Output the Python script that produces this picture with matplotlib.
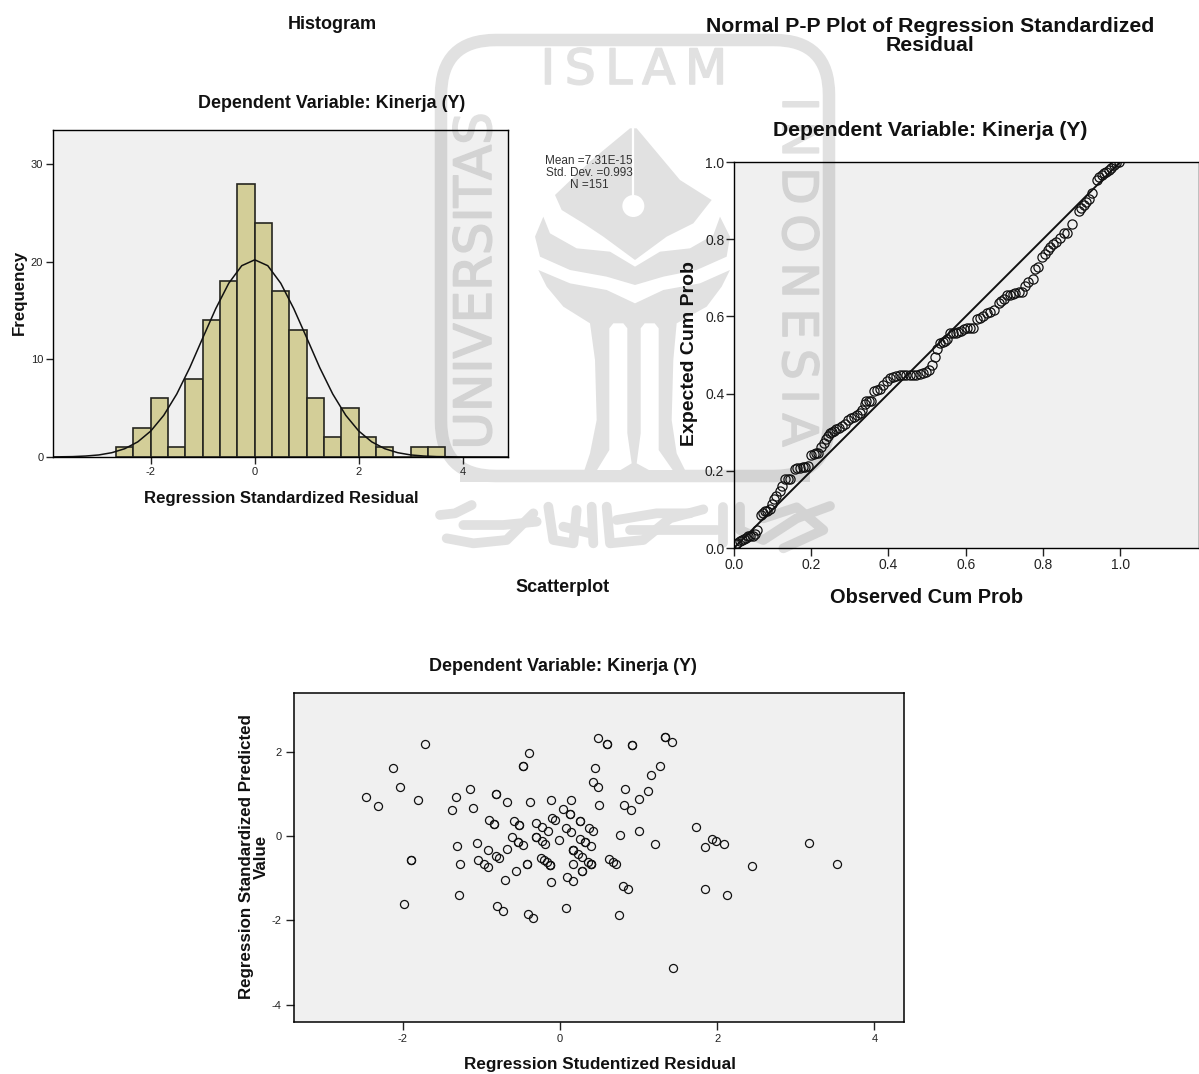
import matplotlib
matplotlib.use("Agg")
import matplotlib.pyplot as plt
import matplotlib.patheffects as pe
from matplotlib.patches import Circle, FancyBboxPatch, Polygon

plt.rcParams['font.family'] = ['Liberation Sans', 'DejaVu Sans']
plt.rcParams['axes.unicode_minus'] = False

W, H = 1199, 1074

# histogram
hist_edges = [-8/3, -7/3, -2, -5/3, -4/3, -1, -2/3, -1/3, 0, 1/3, 2/3, 1, 4/3, 5/3, 2, 7/3, 8/3, 3, 10/3, 11/3]
hist_counts = [1, 3, 6, 1, 8, 14, 18, 28, 24, 17, 13, 6, 2, 5, 2, 1, 0, 1, 1]
curve_x = [-3.88, -3.5, -3.25, -3.0, -2.75, -2.5, -2.25, -2.0, -1.75, -1.5, -1.25, -1.0, -0.75, -0.5, -0.25, 0.0,
           0.25, 0.5, 0.75, 1.0, 1.25, 1.5, 1.75, 2.0, 2.25, 2.5, 2.75, 3.0, 3.25, 3.5, 4.0, 4.87]
curve_y = [0.01, 0.04, 0.10, 0.21, 0.44, 0.85, 1.55, 2.66, 4.27, 6.45, 9.15, 12.2, 15.2, 17.8, 19.6, 20.2,
           19.6, 17.8, 15.2, 12.2, 9.15, 6.45, 4.27, 2.66, 1.55, 0.85, 0.44, 0.21, 0.10, 0.04, 0.01, 0.0]

# normal p-p plot
pp_x = [.004, .009, .015, .020, .025, .031, .036, .042, .048, .054,
        .060, .070, .075, .080, .086, .092, .098, .104, .110, .118,
        .125, .131, .139, .146, .157, .164, .170, .178, .185, .192,
        .200, .207, .213, .218, .226, .232, .238, .243, .248, .254,
        .260, .265, .272, .280, .287, .295, .304, .312, .319, .326,
        .332, .338, .343, .349, .355, .362, .370, .378, .386, .395,
        .404, .412, .420, .430, .438, .446, .455, .463, .472, .481,
        .490, .498, .506, .512, .520, .526, .533, .540, .546, .551,
        .559, .566, .574, .581, .589, .596, .602, .610, .618, .630,
        .637, .645, .654, .663, .672, .685, .692, .699, .706, .715,
        .722, .728, .737, .745, .753, .762, .773, .780, .788, .797,
        .805, .812, .818, .826, .835, .844, .854, .863, .875, .892,
        .899, .905, .912, .920, .927, .940, .946, .952, .957, .964,
        .970, .976, .983, .990, .996]
pp_y = [.010, .013, .017, .020, .023, .027, .030, .031, .030, .036,
        .046, .085, .091, .095, .097, .100, .113, .126, .135, .147,
        .160, .178, .178, .180, .204, .206, .208, .209, .210, .212,
        .240, .243, .245, .247, .262, .273, .283, .291, .297, .300,
        .304, .308, .310, .316, .321, .332, .336, .340, .345, .351,
        .358, .372, .380, .381, .382, .408, .410, .412, .422, .432,
        .441, .443, .445, .447, .448, .448, .449, .449, .449, .451,
        .453, .456, .460, .475, .494, .516, .532, .533, .536, .542,
        .557, .558, .558, .559, .563, .568, .570, .570, .570, .594,
        .596, .600, .609, .611, .616, .635, .640, .646, .655, .656,
        .659, .661, .662, .663, .678, .689, .698, .724, .728, .755,
        .762, .773, .781, .788, .794, .802, .815, .817, .840, .872,
        .880, .889, .897, .903, .919, .954, .960, .966, .971, .975,
        .980, .984, .993, .997, 1.0]

# scatterplot, repeated pairs are points printed on top of each other
scat_x = [-1.72, -2.13, -2.04, -2.47, -2.32, -1.81, -1.89, -1.89, -1.99, -.40, -.47, -.47, -1.15, -1.32, -1.37, -1.11,
          -.81, -.81, -.67, -.38, -.12, .14, .04, .13, .13, .25, .25, -.90, -.84, -.84, -.59, -.52, -.52, -.31, -.23,
          -.15, -.10, -.06, .08, .14, .37, .42, -.61, -.53, -.53, -.47, -.31, -.31, -.23, -.19, -.01, .26, .32, .32,
          .40, .17, .17, .17, .23, .28, -1.31, -1.06, -.92, -.68, -.82, -.78, -1.04, -.97, -.92, -1.27, -.42, -.42,
          -.24, -.20, -.16, -.13, -.13, -.13, .16, .36, .40, .40, .40, -.56, -.70, .28, .28, -.11, .09, .17, -1.28,
          -.80, -.72, -.41, -.34, .08, .48, .45, .42, .48, .50, .60, .60, .91, .91, 1.33, 1.33, 1.42, 1.27, 1.16,
          1.12, .83, 1.00, .81, .90, 1.00, .76, 1.21, .62, .67, .71, .80, .86, .75, 1.44, 1.73, 1.94, 1.99, 2.09,
          1.84, 2.44, 1.85, 2.12, 3.17, 3.53]
scat_y = [2.19, 1.62, 1.16, .92, .72, .85, -.58, -.58, -1.61, 1.97, 1.67, 1.67, 1.11, .92, .62, .66,
          1.00, 1.00, .81, .81, .85, .85, .63, .51, .51, .36, .36, .38, .28, .28, .36, .26, .26, .31, .21,
          .11, .43, .39, .18, .10, .20, .12, -.02, -.14, -.14, -.21, -.03, -.03, -.13, -.20, -.09, -.06, -.15, -.15,
          -.24, -.34, -.34, -.34, -.43, -.50, -.23, -.16, -.34, -.32, -.48, -.53, -.58, -.66, -.73, -.66, -.67, -.67,
          -.53, -.58, -.62, -.68, -.68, -.68, -.67, -.61, -.66, -.66, -.66, -.84, -1.05, -.84, -.84, -1.09, -.97, -1.07, -1.41,
          -1.66, -1.77, -1.84, -1.94, -1.71, 2.33, 1.62, 1.27, 1.17, .73, 2.18, 2.18, 2.16, 2.16, 2.35, 2.35, 2.24, 1.67, 1.44,
          1.07, 1.11, .88, .74, .62, .11, .02, -.20, -.55, -.62, -.66, -1.18, -1.26, -1.87, -3.13, .22, -.06, -.12, -.18,
          -.27, -.71, -1.25, -1.41, -.17, -.67]

PANEL = (0, 0, 0, 0.06)  # lets the watermark show through darker
BAR = '#d3ce98'
WM = '#e1e1e1'


def px_axes(fig, x0, y0, x1, y1, **kw):
    # axes from pixel box, y counted from the top of the picture
    return fig.add_axes([x0 / W, 1 - y1 / H, (x1 - x0) / W, (y1 - y0) / H], **kw)


def ftext(fig, x, y, s, **kw):
    kw.setdefault('ha', 'center')
    kw.setdefault('va', 'center')
    return fig.text(x / W, 1 - y / H, s, **kw)


def logo_pts(pts):
    # emblem was traced on a 3x crop starting at (520, 120)
    return [(520 + a / 3, 120 + b / 3) for a, b in pts]


def callig_pts(pts):
    # same for the calligraphy, crop starting at (430, 450)
    return [(430 + a / 3, 450 + b / 3) for a, b in pts]


fig = plt.figure(figsize=(W / 100, H / 100), dpi=100)

# watermark sits under everything
wm = px_axes(fig, 0, 0, W, H, zorder=0)
wm.set_xlim(0, W)
wm.set_ylim(H, 0)
wm.axis('off')
wm.add_patch(FancyBboxPatch((441, 40), 388, 436, boxstyle='round,pad=0,rounding_size=55',
                            fc='none', ec=WM, lw=9))
thick = [pe.withStroke(linewidth=1.2, foreground=WM)]
wm.text(634, 70, 'I\u2009S\u2009L\u2009A\u2009M', color=WM, fontsize=35, family='DejaVu Sans',
        ha='center', va='center', path_effects=thick)
wm.text(477, 281, 'UNIVERSITAS', color=WM, fontsize=37, family='DejaVu Sans', rotation=90,
        ha='center', va='center', path_effects=thick)
wm.text(797, 272, 'I\u2009N\u2009D\u2009O\u2009N\u2009E\u2009S\u2009I\u2009A', color=WM, fontsize=35,
        family='DejaVu Sans', rotation=-90, ha='center', va='center', path_effects=thick)

logo_shapes = [
    # nib
    [(330, 25), (215, 120), (105, 225), (125, 270), (190, 310), (250, 350), (345, 420), (440, 350), (520, 310),
     (575, 240), (480, 180), (350, 25)],
    # upper leaves
    [(70, 290), (45, 350), (60, 410), (150, 450), (260, 470), (345, 495), (430, 470), (530, 450), (620, 410),
     (630, 350), (600, 290), (580, 345), (510, 385), (420, 395), (345, 440), (270, 395), (170, 385), (90, 340)],
    # lower leaves and stem
    [(55, 450), (80, 500), (130, 560), (210, 610), (225, 720), (230, 900), (210, 1000), (190, 1060), (500, 1060),
     (470, 1000), (455, 900), (460, 720), (470, 610), (560, 560), (605, 500), (630, 450), (540, 490), (430, 510),
     (345, 550), (260, 510), (150, 490)],
]
for shape in logo_shapes:
    wm.add_patch(Polygon(logo_pts(shape), fc=WM, ec='none'))
# white slots cut out of the stem
for slot in [[(268, 625), (280, 610), (310, 610), (322, 625), (322, 940), (335, 1030), (285, 1060), (225, 1060), (268, 990)],
             [(362, 625), (374, 610), (404, 610), (416, 625), (416, 990), (465, 1060), (405, 1060), (350, 1030), (362, 940)]]:
    wm.add_patch(Polygon(logo_pts(slot), fc='white', ec='none'))
wm.add_patch(Circle(logo_pts([(340, 258)])[0], 11, fc='white', ec='none'))
wm.plot(*zip(*logo_pts([(340, 20), (340, 230)])), color='white', lw=1.6)
# frame bottom edge goes back on top of the slots
wm.add_patch(Polygon([(460, 470), (810, 470), (810, 482), (460, 482)], fc=WM, ec='none'))

# calligraphy under the frame
callig_strokes = [
    [(30, 195), (75, 190), (125, 165)],
    [(50, 265), (130, 280), (230, 270), (310, 190)],
    [(100, 225), (220, 225), (320, 215)],
    [(355, 170), (370, 270), (430, 280), (440, 180)],
    [(400, 230), (480, 250)],
    [(485, 170), (490, 280)],
    [(530, 170), (540, 280), (640, 270), (720, 205), (820, 178)],
    [(560, 210), (680, 190), (780, 190)],
    [(600, 240), (760, 240), (860, 240)],
    [(880, 170), (880, 280)],
    [(930, 170), (930, 240), (1000, 270), (1100, 205), (1200, 168)],
    [(1000, 205), (1100, 172), (1180, 240), (1060, 295)],
]
for stroke in callig_strokes:
    wm.plot(*zip(*callig_pts(stroke)), color=WM, lw=7, solid_capstyle='round', solid_joinstyle='round')

# histogram panel
ax1 = px_axes(fig, 53, 130, 508, 457, zorder=2, facecolor=PANEL)
ax1.bar(hist_edges[:-1], hist_counts, width=1 / 3, align='edge', color=BAR, edgecolor='#262620', linewidth=1.2)
ax1.plot(curve_x, curve_y, color='#111111', lw=1.1)
ax1.set_xlim(-3.88, 4.87)
ax1.set_ylim(0, 33.5)
ax1.set_xticks([-2, 0, 2, 4])
ax1.set_yticks([0, 10, 20, 30])
ax1.tick_params(labelsize=8, length=5, width=1, pad=2, colors='#222222')
for s in ax1.spines.values():
    s.set_linewidth(1.0)

# p-p panel
ax2 = px_axes(fig, 734, 162, 1199, 548, zorder=2, facecolor=PANEL)
ax2.plot([0, 1.2], [0, 1.2], color='#111111', lw=1.4)
ax2.plot(pp_x, pp_y, ls='none', marker='o', ms=6.6, mfc='none', mec='#111111', mew=0.9)
ax2.set_xlim(0, 1.204)
ax2.set_ylim(0, 1.0)
ax2.set_xticks([0, .2, .4, .6, .8, 1.0])
ax2.set_yticks([0, .2, .4, .6, .8, 1.0])
ax2.set_xticklabels(['0.0', '0.2', '0.4', '0.6', '0.8', '1.0'])
ax2.set_yticklabels(['0.0', '0.2', '0.4', '0.6', '0.8', '1.0'])
ax2.tick_params(labelsize=10, length=6, width=1, pad=1, colors='#222222')
for s in ax2.spines.values():
    s.set_linewidth(1.0)

# scatter panel
ax3 = px_axes(fig, 294, 693, 904, 1022, zorder=2, facecolor=PANEL)
ax3.plot(scat_x, scat_y, ls='none', marker='o', ms=5.8, mfc='none', mec='#111111', mew=0.9)
ax3.set_xlim(-3.384, 4.377)
ax3.set_ylim(-4.41, 3.39)
ax3.set_xticks([-2, 0, 2, 4])
ax3.set_yticks([-4, -2, 0, 2])
ax3.tick_params(labelsize=8, length=6, width=1, pad=3, colors='#222222')
for s in ax3.spines.values():
    s.set_linewidth(1.1)

# all the titles and labels are placed by pixel like in the pasted report
bold = dict(fontweight='bold', color='#111111')
ftext(fig, 332, 24.5, 'Histogram', fontsize=13, **bold)
ftext(fig, 332, 103, 'Dependent Variable: Kinerja (Y)', fontsize=12.9, **bold)
ftext(fig, 281, 499, 'Regression Standardized Residual', fontsize=12.1, **bold)
ftext(fig, 19, 292, 'Frequency', fontsize=12.2, rotation=90, **bold)
ftext(fig, 589, 173, 'Mean =7.31E-15\nStd. Dev. =0.993\nN =151', fontsize=8.5, color='#333333', linespacing=1.0)

ftext(fig, 930, 36, 'Normal P-P Plot of Regression Standardized\nResidual', fontsize=15.3, linespacing=0.98, **bold)
ftext(fig, 930, 130, 'Dependent Variable: Kinerja (Y)', fontsize=15.2, **bold)
ftext(fig, 927, 597.5, 'Observed Cum Prob', fontsize=14.4, **bold)
ftext(fig, 689, 354, 'Expected Cum Prob', fontsize=14, rotation=90, **bold)

ftext(fig, 563, 587, 'Scatterplot', fontsize=13, **bold)
ftext(fig, 563, 666.5, 'Dependent Variable: Kinerja (Y)', fontsize=13, **bold)
ftext(fig, 600, 1065, 'Regression Studentized Residual', fontsize=12.3, **bold)
ftext(fig, 254, 857, 'Regression Standardized Predicted\nValue', fontsize=12.2, rotation=90, linespacing=0.95, **bold)

fig.savefig('out.png', dpi=100)
